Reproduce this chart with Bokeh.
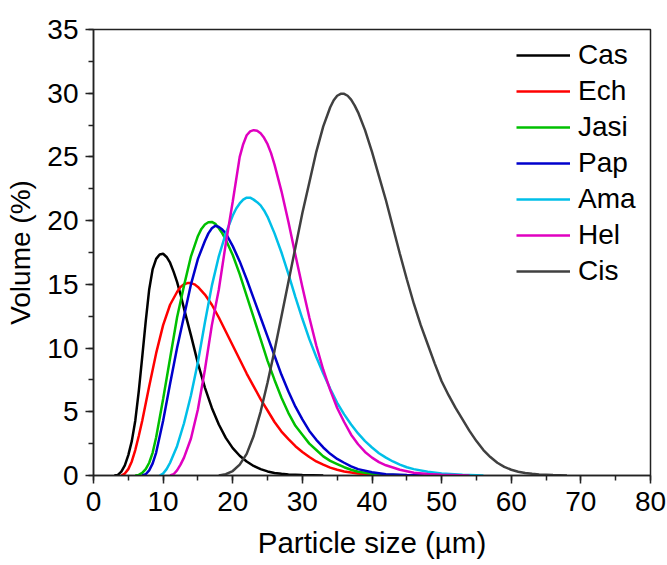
from bokeh.plotting import figure
from bokeh.models import Range1d, SingleIntervalTicker, Legend, LegendItem
from bokeh.embed import file_html
from bokeh.resources import INLINE

# ---- data ----
names = ["Cas", "Ech", "Jasi", "Pap", "Ama", "Hel", "Cis"]
colors = ["#000000", "#ff0000", "#00c000", "#0000cc", "#00bfe8", "#e000c0", "#404040"]

cas_x = [3, 3.5, 4, 4.5, 5, 5.5, 6, 6.5, 7, 7.5, 8, 8.5, 9, 9.5, 10, 10.5, 11, 11.5, 12, 12.5, 13, 14, 15, 16, 17, 18, 19, 20, 21, 22, 23, 24, 25, 26, 27, 28, 30, 33]
cas_y = [0, 0.05, 0.3, 0.8, 1.6, 2.7, 4.3, 6.6, 9.3, 12.1, 14.6, 16.2, 17.0, 17.35, 17.4, 17.15, 16.7, 16.0, 15.2, 14.2, 13.1, 11.0, 8.8, 6.9, 5.3, 4.0, 2.95, 2.15, 1.55, 1.1, 0.75, 0.5, 0.32, 0.2, 0.13, 0.08, 0.03, 0]

ech_x = [4, 4.5, 5, 5.5, 6, 6.5, 7, 8, 9, 10, 11, 12, 12.5, 13, 13.5, 14, 14.5, 15, 16, 17, 18, 19, 20, 21, 22, 23, 24, 25, 26, 27, 28, 29, 30, 31, 32, 33, 34, 35, 36, 38, 40, 43]
ech_y = [0, 0.15, 0.5, 1.1, 2.0, 3.1, 4.3, 7.0, 9.6, 11.8, 13.4, 14.4, 14.8, 15.0, 15.1, 15.1, 15.0, 14.8, 14.2, 13.4, 12.4, 11.3, 10.2, 9.1, 8.0, 7.0, 6.0, 5.1, 4.2, 3.45, 2.85, 2.3, 1.85, 1.45, 1.1, 0.85, 0.62, 0.45, 0.32, 0.15, 0.06, 0]

jasi_x = [6, 6.5, 7, 7.5, 8, 8.5, 9, 10, 11, 12, 13, 14, 15, 15.5, 16, 16.5, 17, 17.5, 18, 18.5, 19, 20, 21, 22, 23, 24, 25, 26, 27, 28, 29, 30, 31, 32, 33, 34, 35, 36, 37, 38, 40, 42, 45]
jasi_y = [0, 0.05, 0.2, 0.5, 1.0, 1.8, 3.0, 6.0, 9.2, 12.4, 14.9, 17.2, 18.8, 19.35, 19.7, 19.88, 19.9, 19.75, 19.4, 19.0, 18.5, 17.3, 15.8, 14.1, 12.4, 10.7, 9.0, 7.5, 6.1, 4.9, 3.9, 3.2, 2.5, 2.0, 1.5, 1.15, 0.9, 0.65, 0.45, 0.3, 0.13, 0.05, 0]

pap_x = [7, 7.5, 8, 8.5, 9, 10, 11, 12, 13, 14, 15, 16, 16.5, 17, 17.5, 18, 18.5, 19, 20, 21, 22, 23, 24, 25, 26, 27, 28, 29, 30, 31, 32, 33, 34, 35, 36, 37, 38, 40, 42, 45, 48]
pap_y = [0, 0.1, 0.4, 0.95, 1.8, 4.3, 7.2, 10.0, 12.5, 15.0, 17.0, 18.4, 19.0, 19.4, 19.6, 19.5, 19.3, 19.0, 18.0, 16.8, 15.4, 13.9, 12.4, 10.9, 9.4, 7.9, 6.6, 5.4, 4.4, 3.5, 2.8, 2.2, 1.7, 1.3, 1.0, 0.72, 0.5, 0.25, 0.1, 0.03, 0]

ama_x = [9.5, 10, 10.5, 11, 12, 13, 14, 15, 16, 17, 18, 19, 20, 20.5, 21, 21.5, 22, 22.5, 23, 23.5, 24, 24.5, 25, 26, 27, 28, 29, 30, 31, 32, 33, 34, 35, 36, 37, 38, 39, 40, 41, 42, 43, 44, 45, 46, 48, 50, 53, 56]
ama_y = [0, 0.15, 0.5, 1.0, 2.3, 4.1, 6.3, 8.9, 12.0, 14.9, 17.2, 19.0, 20.4, 20.95, 21.35, 21.65, 21.8, 21.8, 21.65, 21.45, 21.2, 20.8, 20.3, 19.0, 17.5, 15.8, 14.0, 12.3, 10.7, 9.3, 8.0, 6.8, 5.7, 4.8, 4.0, 3.3, 2.7, 2.2, 1.75, 1.4, 1.1, 0.85, 0.65, 0.5, 0.3, 0.15, 0.05, 0]

hel_x = [11, 11.5, 12, 12.5, 13, 14, 15, 16, 17, 18, 19, 20, 21, 21.5, 22, 22.5, 23, 23.5, 24, 24.5, 25, 25.5, 26, 27, 28, 29, 30, 31, 32, 33, 34, 35, 36, 37, 38, 39, 40, 41, 42, 44, 46, 48, 50, 54]
hel_y = [0, 0.1, 0.4, 0.85, 1.4, 2.9, 5.2, 8.3, 11.8, 14.6, 18.2, 21.5, 25.0, 26.0, 26.7, 27.0, 27.1, 27.05, 26.85, 26.5, 26.0, 25.3, 24.4, 22.3, 19.9, 17.3, 14.8, 12.4, 10.2, 8.3, 6.7, 5.3, 4.2, 3.2, 2.45, 1.85, 1.4, 1.05, 0.8, 0.45, 0.22, 0.12, 0.06, 0]

cis_x = [18, 19, 20, 21, 22, 23, 24, 25, 26, 27, 28, 29, 30, 31, 32, 33, 34, 34.5, 35, 35.5, 36, 36.5, 37, 37.5, 38, 39, 40, 41, 42, 43, 44, 45, 46, 47, 48, 49, 50, 51, 52, 53, 54, 55, 56, 57, 58, 59, 60, 61, 62, 63, 64, 66, 68]
cis_y = [0, 0.1, 0.35, 0.85, 1.7, 3.1, 5.0, 7.3, 9.8, 12.5, 15.2, 17.9, 20.6, 23.0, 25.4, 27.4, 28.9, 29.45, 29.8, 29.95, 29.95, 29.8, 29.5, 29.05, 28.5, 27.1, 25.4, 23.5, 21.6, 19.5, 17.4, 15.4, 13.5, 11.8, 10.3, 8.8, 7.4, 6.3, 5.3, 4.4, 3.5, 2.7, 2.0, 1.45, 1.0, 0.68, 0.45, 0.3, 0.2, 0.13, 0.08, 0.03, 0]

series_x = [cas_x, ech_x, jasi_x, pap_x, ama_x, hel_x, cis_x]
series_y = [cas_y, ech_y, jasi_y, pap_y, ama_y, hel_y, cis_y]

x_label = "Particle size (µm)"
y_label = "Volume (%)"

FONT = "Liberation Sans"

p = figure(width=667, height=565, x_range=Range1d(0, 80), y_range=Range1d(0, 35),
           output_backend="svg", toolbar_location=None,
           min_border_left=93, min_border_right=17, min_border_top=29, min_border_bottom=90)

p.xgrid.visible = False
p.ygrid.visible = False
p.outline_line_color = "#222222"
p.outline_line_width = 1.5
p.background_fill_color = "white"
p.border_fill_color = "white"

p.xaxis.ticker = SingleIntervalTicker(interval=10, num_minor_ticks=2)
p.yaxis.ticker = SingleIntervalTicker(interval=5, num_minor_ticks=2)

for ax in (p.xaxis[0], p.yaxis[0]):
    ax.axis_line_color = "#222222"
    ax.axis_line_width = 1.5
    ax.major_tick_line_color = "#222222"
    ax.minor_tick_line_color = "#222222"
    ax.major_tick_line_width = 1.5
    ax.minor_tick_line_width = 1.5
    ax.major_tick_in = 0
    ax.major_tick_out = 8
    ax.minor_tick_in = 0
    ax.minor_tick_out = 5
    ax.major_label_text_font = FONT
    ax.major_label_text_font_size = "28px"
    ax.major_label_text_color = "black"
    ax.axis_label_text_font = FONT
    ax.axis_label_text_font_style = "normal"
    ax.axis_label_text_color = "black"

p.xaxis.axis_label = x_label
p.yaxis.axis_label = y_label
p.xaxis.axis_label_text_font_size = "29.5px"
p.yaxis.axis_label_text_font_size = "28px"
p.xaxis.major_label_standoff = 8
p.xaxis.axis_label_standoff = 12
p.yaxis.major_label_standoff = 7
p.yaxis.axis_label_standoff = 8

items = []
for name, color, xs, ys in zip(names, colors, series_x, series_y):
    r = p.line(xs, ys, line_color=color, line_width=2.5)
    items.append(LegendItem(label=name, renderers=[r]))

legend = Legend(items=items, location=(423, 186), padding=0, margin=0, spacing=0,
                border_line_color=None, background_fill_alpha=0,
                glyph_width=54, glyph_height=36, label_height=36, label_standoff=8,
                label_text_font=FONT, label_text_font_size="28px", label_text_color="black")
p.add_layout(legend)

open("out.html", "w").write(file_html(p, INLINE))
